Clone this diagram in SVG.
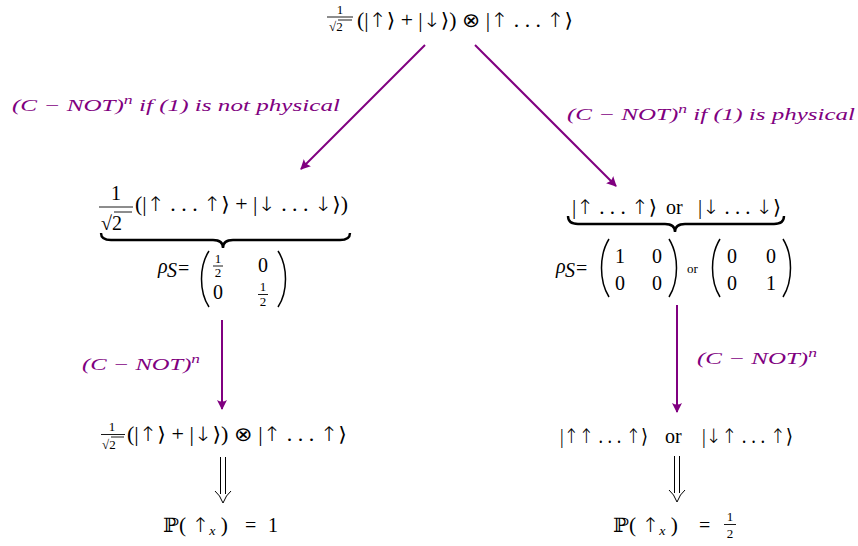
<svg xmlns="http://www.w3.org/2000/svg" width="858" height="546" viewBox="0 0 858 546">
<defs>
<marker id="ah" viewBox="0 0 10 10" refX="9" refY="5" markerWidth="5" markerHeight="5" orient="auto" markerUnits="strokeWidth">
<path d="M0,0 Q3,5 0,10 L10,5 Z" fill="#800080"/>
</marker>
</defs>
<style>
.m{font-family:"Liberation Serif","DejaVu Serif",serif;font-size:20px;fill:#000}
.s{font-size:13px}
.it{font-style:italic}
.a{font-family:"DejaVu Sans",sans-serif;font-weight:200}
.lab{font-family:"Liberation Serif","DejaVu Serif",serif;font-style:italic;font-size:17px;fill:#800080}
.bar{stroke:#000;stroke-width:0.9}
.brace{stroke:#000;stroke-width:2.4;fill:none}
.paren{stroke:#000;stroke-width:1.5;fill:none}
.dbl{stroke:#000;stroke-width:1;fill:none}
#connectors line{stroke:#800080;stroke-width:2;fill:none}
</style>
<rect width="858" height="546" fill="#fff"/>

<g id="top">
<text class="m s" x="340" y="14" text-anchor="middle">1</text>
<line class="bar" x1="327" y1="17" x2="353" y2="17"/>
<text class="m s" x="329" y="31">√2</text>
<line class="bar" x1="338" y1="20" x2="352" y2="20"/>
<text class="m" x="357" y="27" textLength="216" lengthAdjust="spacingAndGlyphs">(|<tspan class="a">↑</tspan>⟩ + |<tspan class="a">↓</tspan>⟩) <tspan class="a">⊗</tspan> |<tspan class="a">↑</tspan> . . . <tspan class="a">↑</tspan>⟩</text>
</g>

<g id="left-state">
<text class="m" x="116" y="200" text-anchor="middle">1</text>
<line class="bar" x1="99" y1="207" x2="133" y2="207"/>
<text class="m" x="101" y="230">√2</text>
<line class="bar" x1="114" y1="212" x2="132" y2="212"/>
<text class="m" x="135" y="211" textLength="213" lengthAdjust="spacingAndGlyphs">(|<tspan class="a">↑</tspan> . . . <tspan class="a">↑</tspan>⟩ + |<tspan class="a">↓</tspan> . . . <tspan class="a">↓</tspan>⟩)</text>
<path class="brace" d="M101,233 Q101,240 111,240 L213,240 Q223,240 223,248 Q223,240 233,240 L340,240 Q350,240 350,233"/>
<text class="m it" x="158" y="273" font-size="15">ρ</text>
<text class="m it" x="167" y="277" font-size="10">S</text>
<text class="m" x="178" y="275" font-size="15">=</text>
<path class="paren" d="M209,251 C199,266 199,292 209,307"/>
<path class="paren" d="M278,251 C288,266 288,292 278,307"/>
<text class="m s" x="218" y="263" text-anchor="middle">1</text>
<line class="bar" x1="213" y1="266" x2="223" y2="266"/>
<text class="m s" x="218" y="277" text-anchor="middle">2</text>
<text class="m" x="263" y="272" text-anchor="middle">0</text>
<text class="m" x="218" y="299" text-anchor="middle">0</text>
<text class="m s" x="263" y="291" text-anchor="middle">1</text>
<line class="bar" x1="258" y1="294.5" x2="268" y2="294.5"/>
<text class="m s" x="263" y="306" text-anchor="middle">2</text>
</g>

<g id="right-state">
<text class="m" x="572" y="214" textLength="85" lengthAdjust="spacingAndGlyphs">|<tspan class="a">↑</tspan> . . . <tspan class="a">↑</tspan>⟩</text>
<text class="m" x="666" y="214">or</text>
<text class="m" x="698" y="214" textLength="83" lengthAdjust="spacingAndGlyphs">|<tspan class="a">↓</tspan> . . . <tspan class="a">↓</tspan>⟩</text>
<path class="brace" d="M568,216 Q568,224 578,224 L665,224 Q675,224 675,232 Q675,224 685,224 L774,224 Q784,224 784,216"/>
<text class="m it" x="556" y="273" font-size="15">ρ</text>
<text class="m it" x="565" y="277" font-size="10">S</text>
<text class="m" x="576" y="275" font-size="15">=</text>
<path class="paren" d="M609,239 C599,255 599,281 609,297"/>
<path class="paren" d="M669,239 C679,255 679,281 669,297"/>
<text class="m" x="620" y="263" text-anchor="middle">1</text>
<text class="m" x="657" y="263" text-anchor="middle">0</text>
<text class="m" x="620" y="290" text-anchor="middle">0</text>
<text class="m" x="657" y="290" text-anchor="middle">0</text>
<text class="m s" x="687" y="273">or</text>
<path class="paren" d="M720,239 C710,255 710,281 720,297"/>
<path class="paren" d="M783,239 C793,255 793,281 783,297"/>
<text class="m" x="732" y="263" text-anchor="middle">0</text>
<text class="m" x="771" y="263" text-anchor="middle">0</text>
<text class="m" x="732" y="290" text-anchor="middle">0</text>
<text class="m" x="771" y="290" text-anchor="middle">1</text>
</g>

<g id="left-result">
<text class="m s" x="112" y="431" text-anchor="middle">1</text>
<line class="bar" x1="101" y1="434.5" x2="125" y2="434.5"/>
<text class="m s" x="102" y="449">√2</text>
<line class="bar" x1="111" y1="437" x2="124" y2="437"/>
<text class="m" x="127" y="441" textLength="220" lengthAdjust="spacingAndGlyphs">(|<tspan class="a">↑</tspan>⟩ + |<tspan class="a">↓</tspan>⟩) <tspan class="a">⊗</tspan> |<tspan class="a">↑</tspan> . . . <tspan class="a">↑</tspan>⟩</text>
<path class="dbl" d="M220.5,457 V494 M225.5,457 V494 M215,491 Q220,495 223,503 Q226,495 231,491"/>
<text class="m" x="163" y="532" textLength="65" lengthAdjust="spacingAndGlyphs">ℙ( <tspan class="a">↑</tspan><tspan class="it" font-size="13" dy="3">x</tspan><tspan dy="-3"> )</tspan></text>
<text class="m" x="245" y="532">=</text>
<text class="m" x="268" y="532">1</text>
</g>

<g id="right-result">
<text class="m" x="560" y="443" textLength="88" lengthAdjust="spacingAndGlyphs">|<tspan class="a">↑↑</tspan> . . . <tspan class="a">↑</tspan>⟩</text>
<text class="m" x="665" y="443">or</text>
<text class="m" x="702" y="443" textLength="91" lengthAdjust="spacingAndGlyphs">|<tspan class="a">↓↑</tspan> . . . <tspan class="a">↑</tspan>⟩</text>
<path class="dbl" d="M674.5,456 V493 M679.5,456 V493 M669,490 Q674,494 677,502 Q680,494 685,490"/>
<text class="m" x="613" y="532" textLength="65" lengthAdjust="spacingAndGlyphs">ℙ( <tspan class="a">↑</tspan><tspan class="it" font-size="13" dy="3">x</tspan><tspan dy="-3"> )</tspan></text>
<text class="m" x="699" y="532">=</text>
<text class="m s" x="730" y="521" text-anchor="middle">1</text>
<line class="bar" x1="724" y1="524.5" x2="736" y2="524.5"/>
<text class="m s" x="730" y="538" text-anchor="middle">2</text>
</g>

<g id="connectors">
<line x1="425" y1="45" x2="301" y2="169" marker-end="url(#ah)"/>
<line x1="475" y1="45" x2="616" y2="186" marker-end="url(#ah)"/>
<line x1="222" y1="320" x2="222" y2="409" marker-end="url(#ah)"/>
<line x1="677" y1="305" x2="677" y2="412" marker-end="url(#ah)"/>
<text class="lab" x="12" y="111" textLength="328" lengthAdjust="spacingAndGlyphs">(C − NOT)<tspan font-size="12" dy="-7">n</tspan><tspan dy="7"> if (1) is not physical</tspan></text>
<text class="lab" x="567" y="120" textLength="288" lengthAdjust="spacingAndGlyphs">(C − NOT)<tspan font-size="12" dy="-7">n</tspan><tspan dy="7"> if (1) is physical</tspan></text>
<text class="lab" x="82" y="370" textLength="118" lengthAdjust="spacingAndGlyphs">(C − NOT)<tspan font-size="12" dy="-7">n</tspan></text>
<text class="lab" x="697" y="364" textLength="120" lengthAdjust="spacingAndGlyphs">(C − NOT)<tspan font-size="12" dy="-7">n</tspan></text>
</g>
</svg>
